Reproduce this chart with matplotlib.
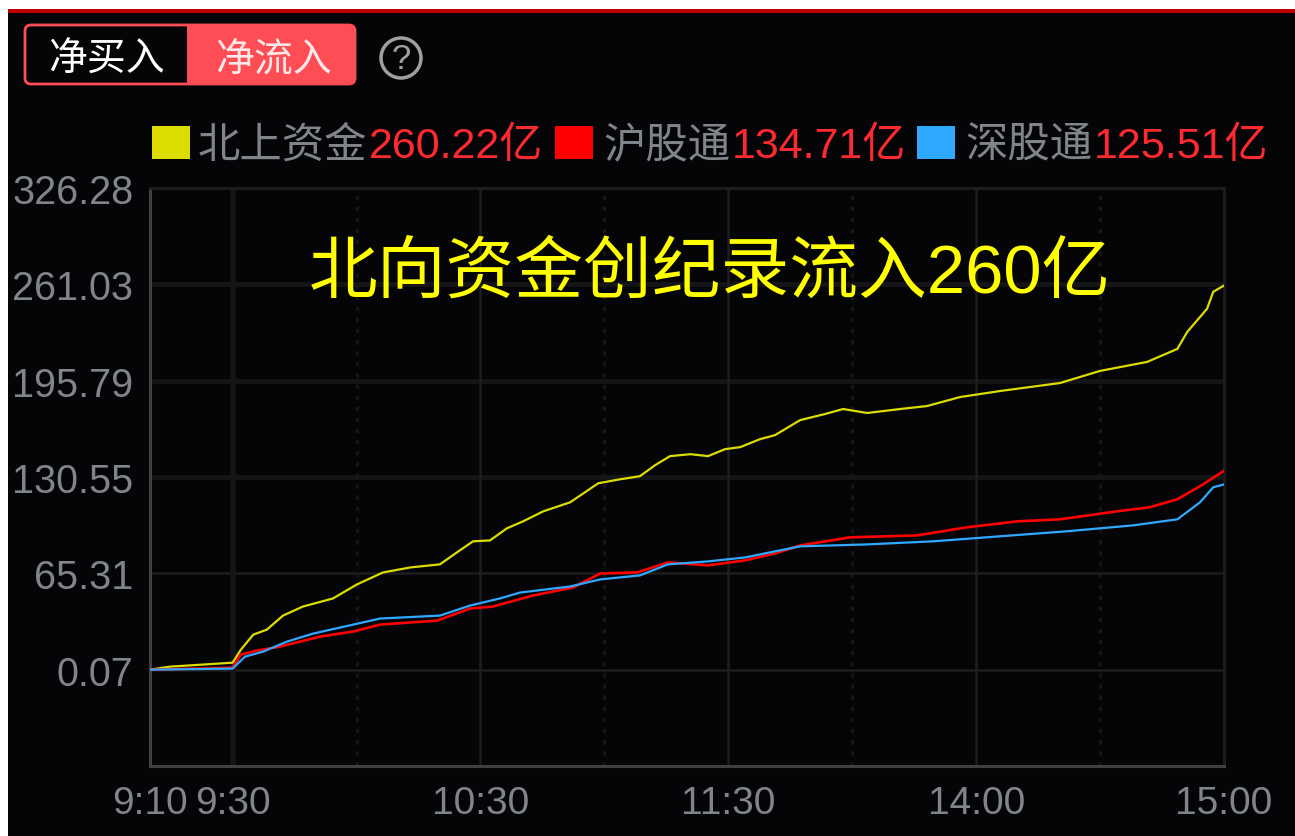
import matplotlib
matplotlib.use("Agg")
import matplotlib.pyplot as plt
from matplotlib.patches import FancyBboxPatch, Rectangle, Circle

plt.rcParams['font.family'] = ['Liberation Sans', 'Noto Sans CJK SC', 'DejaVu Sans']

W, H = 1295, 837

# minutes after 9:10, values in 亿
north_t = [0, 4.8, 20, 22, 25, 28.3, 32.2, 37, 44.3, 50.1, 56.4, 63, 70.2, 74.3, 78.2, 82.3, 86.4, 90.3, 95.2,
           101.7, 105.3, 108.5, 113.8, 118.6, 122.3, 125.9, 130.8, 135.1, 139.2, 142.9, 147.7, 151.3, 157.4,
           163.4, 167.8, 173.6, 181.6, 188.1, 196.1, 205.8, 220.3, 230, 241.4, 248.7, 251.1, 255.9, 257.4, 260]
north_v = [0.07, 2.1, 4.8, 13.6, 23.8, 27.2, 36.7, 42.8, 48.3, 57.8, 65.9, 69.3, 71.4, 79.5, 87, 87.6, 95.8, 100.5,
           107.3, 113.4, 120.2, 126.3, 129, 131.1, 138.6, 144.7, 146, 144.7, 149.4, 150.8, 156.2, 158.9, 169.1,
           173.2, 176.6, 173.9, 176.6, 178.6, 184.7, 188.8, 194.2, 202.4, 208.5, 217.3, 228.8, 244.5, 256, 260.22]

sh_t = [0, 20, 22, 25.9, 31.5, 41.2, 49.2, 55.7, 69.5, 77.5, 83, 92.7, 102.4, 109, 117.9, 125.4, 135.1, 144.1,
        151.3, 157.4, 169.5, 185.7, 197.8, 209.9, 220.3, 234.1, 242.1, 248.7, 254.2, 260]
sh_v = [0.07, 1.4, 10.3, 13, 15.7, 22.5, 25.9, 30.6, 33.3, 41.5, 42.8, 50.3, 55.7, 65.2, 65.9, 72.7, 70.7, 74.1,
        78.8, 84.2, 89.7, 91, 96.5, 100.5, 101.9, 107.3, 110.1, 115.5, 124.3, 134.71]

sz_t = [0, 20, 23, 27.4, 33.2, 39.5, 49.2, 55.7, 70.2, 77.5, 84.7, 89.6, 101.7, 109, 118.6, 125.4, 135.1, 144.1,
        151.3, 157.4, 173.6, 189.6, 205.8, 222, 238, 248.7, 254.2, 257.4, 260]
sz_v = [0.07, 0.8, 8.9, 12.3, 19.1, 24.5, 30.6, 34.7, 36.7, 43.5, 48.3, 52.3, 56.4, 61.2, 63.9, 71.4, 73.4, 76.1,
        80.2, 83.6, 84.9, 87, 90.4, 93.8, 97.8, 101.9, 113.4, 123.6, 125.51]

y_ticks = [0.07, 65.31, 130.55, 195.79, 261.03, 326.28]
y_labels = ["0.07", "65.31", "130.55", "195.79", "261.03", "326.28"]
x_ticks = [0, 20, 80, 140, 200, 260]
x_labels = ["9:10", "9:30", "10:30", "11:30", "14:00", "15:00"]
dotted_x = [50, 110, 170, 230]

legend_names = ["北上资金", "沪股通", "深股通"]
legend_vals = ["260.22亿", "134.71亿", "125.51亿"]
colors = ["#dcdc00", "#ff0000", "#2fa8ff"]

BG = "#050508"
fig = plt.figure(figsize=(W / 100, H / 100), dpi=100, facecolor="white")

# page chrome in pixel coordinates
ui = fig.add_axes([0, 0, 1, 1], zorder=0)
ui.set_xlim(0, W)
ui.set_ylim(H, 0)
ui.axis("off")
ui.add_patch(Rectangle((8, 13), W - 8, H - 13, fc=BG, ec="none"))
ui.add_patch(Rectangle((8, 10), W - 8, 3.5, fc="#c00000", ec="none"))

# toggle buttons
ui.add_patch(FancyBboxPatch((27, 28), 326, 55, boxstyle="round,pad=0,rounding_size=5",
                            fc="#ff4d55", ec="#ff4d55", lw=3))
ui.add_patch(Rectangle((26, 27), 161, 57, fc=BG, ec="none"))
ui.add_patch(FancyBboxPatch((25, 26), 330, 59, boxstyle="round,pad=0,rounding_size=6",
                            fc="none", ec="#ff4d55", lw=2))
ui.text(106, 61, "净买入", color="white", fontsize=28, ha="center", va="center")
ui.text(273, 61, "净流入", color="#ffe8e8", fontsize=28, ha="center", va="center")
ui.add_patch(Circle((401, 59), 20, fc="none", ec="#a0a0a0", lw=2.5))
ui.text(401, 59, "?", color="#a0a0a0", fontsize=25, ha="center", va="center")

# legend row
square_x = [152, 555, 917]
name_x = [198, 603, 965]
val_x = [369, 732, 1094]
for i in range(3):
    ui.add_patch(Rectangle((square_x[i], 127), 38, 33, fc=colors[i], ec="none"))
    ui.text(name_x[i], 147, legend_names[i], color="#80858c", fontsize=30.5, ha="left", va="center")
    ui.text(val_x[i], 147, legend_vals[i], color="#ff2a30", fontsize=31, ha="left", va="center")

# chart
ax = fig.add_axes([150 / W, 1 - 767 / H, (1224 - 150) / W, (767 - 189) / H], zorder=1, facecolor="none")
ax.set_xlim(0, 260)
ax.set_ylim(-65.17, 326.28)

for v in [65.31, 0.07]:
    ax.axhline(v, color="#1e1e20", lw=1.8, zorder=1)
for v in [130.55, 195.79, 261.03]:
    ax.axhline(v, color="#151517", lw=3.5, zorder=1)
ax.axvline(20, color="#151517", lw=4, zorder=1)
for v in x_ticks[2:5]:
    ax.axvline(v, color="#1e1e20", lw=1.8, zorder=1)
for v in dotted_x:
    ax.axvline(v, color="#171719", lw=2, ls=(0, (1.5, 2.5)), zorder=1)

ax.plot(north_t, north_v, color=colors[0], lw=1.6, zorder=3)
ax.plot(sh_t, sh_v, color=colors[1], lw=1.9, zorder=4)
ax.plot(sz_t, sz_v, color=colors[2], lw=1.6, zorder=5)

ax.set_xticks(x_ticks, x_labels)
ax.set_yticks(y_ticks, y_labels)
ax.tick_params(length=0, colors="#7f858b")
ax.tick_params(axis="x", pad=14, labelsize=28)
ax.tick_params(axis="y", pad=12, labelsize=28.5)
for side in ["left", "bottom"]:
    ax.spines[side].set_color("#404042")
    ax.spines[side].set_linewidth(2.2)
for side in ["top", "right"]:
    ax.spines[side].set_color("#1e1e20")
    ax.spines[side].set_linewidth(2)

# headline sits on top of the grid
fig.text(309 / W, 1 - 275 / H, "北向资金创纪录流入260亿", color="#ffff00", fontsize=49.5, ha="left", va="center", zorder=3)

fig.savefig("out.png", dpi=100, facecolor="white")
